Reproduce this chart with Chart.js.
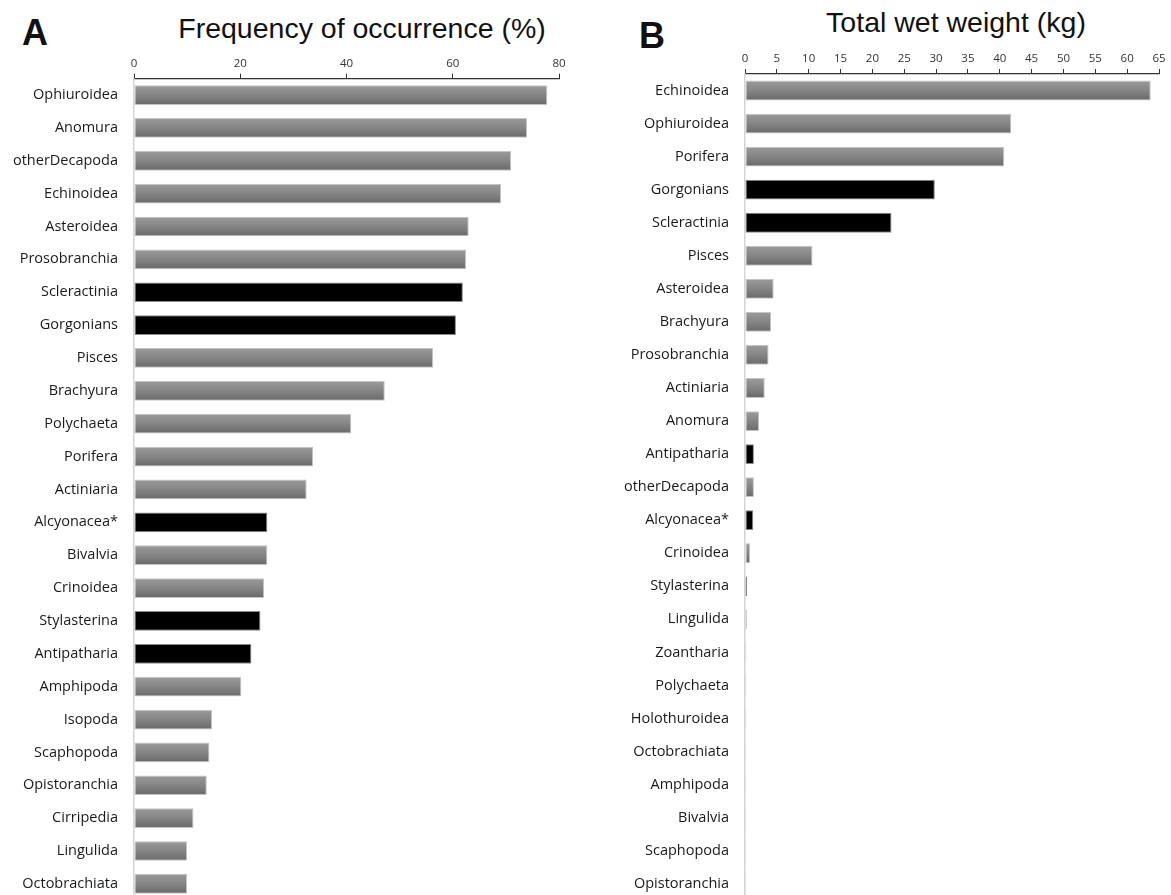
<!DOCTYPE html>
<html>
<head>
<meta charset="utf-8">
<script src="https://cdn.jsdelivr.net/npm/chart.js@4.4.1/dist/chart.umd.min.js"></script>
<style>
  html, body { margin: 0; padding: 0; background: #fff; width: 1171px; height: 895px; overflow: hidden; }
  canvas { position: absolute; top: 0; }
  .panel-letter { position: absolute; font-family: "Liberation Sans", Arial, sans-serif; font-weight: bold; font-size: 36px; line-height: 36px; color: #111; }
  .panel-title { position: absolute; font-family: "Liberation Sans", Arial, sans-serif; font-size: 28.5px; line-height: 28px; color: #111; white-space: nowrap; transform: translateX(-50%); }
</style>
</head>
<body>
<div class="panel-letter" style="left:22px; top:15px;">A</div>
<div class="panel-title" style="left:362px; top:14px;">Frequency of occurrence (%)</div>
<div class="panel-letter" style="left:639px; top:18px;">B</div>
<div class="panel-title" style="left:956px; top:8px;">Total wet weight (kg)</div>

<canvas id="chartA" width="580" height="925" style="left:0; width:580px; height:925px;"></canvas>
<canvas id="chartB" width="591" height="925" style="left:580px; width:591px; height:925px;"></canvas>

<script>
// Panel A: frequency of occurrence (%) per taxon
const freqTaxa = ['Ophiuroidea', 'Anomura', 'otherDecapoda', 'Echinoidea', 'Asteroidea', 'Prosobranchia',
  'Scleractinia', 'Gorgonians', 'Pisces', 'Brachyura', 'Polychaeta', 'Porifera', 'Actiniaria',
  'Alcyonacea*', 'Bivalvia', 'Crinoidea', 'Stylasterina', 'Antipatharia', 'Amphipoda', 'Isopoda',
  'Scaphopoda', 'Opistoranchia', 'Cirripedia', 'Lingulida', 'Octobrachiata'];
const freqValues = [77.8, 74.0, 71.0, 69.1, 63.0, 62.5, 61.9, 60.6, 56.3, 47.2, 40.9, 33.7, 32.5,
  25.1, 25.1, 24.5, 23.8, 22.1, 20.2, 14.7, 14.2, 13.7, 11.2, 10.0, 10.0];
const freqTicks = [0, 20, 40, 60, 80];

// Panel B: total wet weight (kg) per taxon
const weightTaxa = ['Echinoidea', 'Ophiuroidea', 'Porifera', 'Gorgonians', 'Scleractinia', 'Pisces',
  'Asteroidea', 'Brachyura', 'Prosobranchia', 'Actiniaria', 'Anomura', 'Antipatharia', 'otherDecapoda',
  'Alcyonacea*', 'Crinoidea', 'Stylasterina', 'Lingulida', 'Zoantharia', 'Polychaeta', 'Holothuroidea',
  'Octobrachiata', 'Amphipoda', 'Bivalvia', 'Scaphopoda', 'Opistoranchia'];
const weightValues = [63.7, 41.8, 40.7, 29.8, 23.0, 10.6, 4.5, 4.1, 3.7, 3.1, 2.2, 1.4, 1.4,
  1.3, 0.8, 0.35, 0.3, 0.2, 0.2, 0.2, 0.03, 0.03, 0.03, 0.03, 0.03];
const weightTicks = [0, 5, 10, 15, 20, 25, 30, 35, 40, 45, 50, 55, 60, 65];

// Coral taxa are drawn in black, all others in grey
const coralTaxa = ['Scleractinia', 'Gorgonians', 'Alcyonacea*', 'Stylasterina', 'Antipatharia'];

const labelFont = { family: '"Open Sans", "DejaVu Sans", sans-serif', size: 14.5 };
const tickFont = { family: '"Open Sans", "DejaVu Sans", sans-serif', size: 11.5 };

function barFill(ctx, taxa) {
  const chart = ctx.chart;
  const name = taxa[ctx.dataIndex];
  if (coralTaxa.includes(name)) return '#000000';
  const y = chart.scales && chart.scales.y;
  if (!chart.chartArea || !y) return '#7f7f7f';
  const c = y.getPixelForValue(ctx.dataIndex);
  const g = chart.ctx.createLinearGradient(0, c - 10, 0, c + 10);
  g.addColorStop(0, '#9b9b9b');
  g.addColorStop(0.5, '#858585');
  g.addColorStop(1, '#686868');
  return g;
}

function makeChart(id, taxa, values, ticks, max, leftW, topH, rightPad, barPct) {
  return new Chart(document.getElementById(id), {
    type: 'bar',
    data: {
      labels: taxa,
      datasets: [{
        data: values,
        backgroundColor: (ctx) => barFill(ctx, taxa),
        borderColor: (ctx) => coralTaxa.includes(taxa[ctx.dataIndex]) ? '#8a8a8a' : '#c4c4c4',
        borderWidth: 1,
        borderSkipped: false,
        categoryPercentage: 1.0,
        barPercentage: barPct
      }]
    },
    options: {
      indexAxis: 'y',
      responsive: false,
      animation: false,
      devicePixelRatio: 1,
      layout: { padding: { left: 0, right: rightPad, top: 0, bottom: 0 } },
      plugins: { legend: { display: false }, tooltip: { enabled: false } },
      scales: {
        x: {
          position: 'top',
          min: 0,
          max: max,
          afterBuildTicks: (scale) => { scale.ticks = ticks.map(v => ({ value: v })); },
          ticks: { font: tickFont, color: '#333', padding: 3, maxRotation: 0, autoSkip: false },
          grid: { drawOnChartArea: false, drawTicks: true, tickLength: 5, color: '#333', lineWidth: 1 },
          border: { display: true, color: '#333', width: 1.2 },
          afterFit: (scale) => { scale.height = topH; }
        },
        y: {
          ticks: { font: labelFont, color: '#1a1a1a', padding: 16, autoSkip: false },
          grid: { display: true, drawOnChartArea: false, drawTicks: false },
          border: { display: true, color: '#d4d4d4', width: 1.5 },
          afterFit: (scale) => { scale.width = leftW; }
        }
      }
    }
  });
}

makeChart('chartA', freqTaxa, freqValues, freqTicks, 80, 134, 78.6, 21, 0.6);
makeChart('chartB', weightTaxa, weightValues, weightTicks, 65, 165, 74, 12, 0.6);
</script>
</body>
</html>
